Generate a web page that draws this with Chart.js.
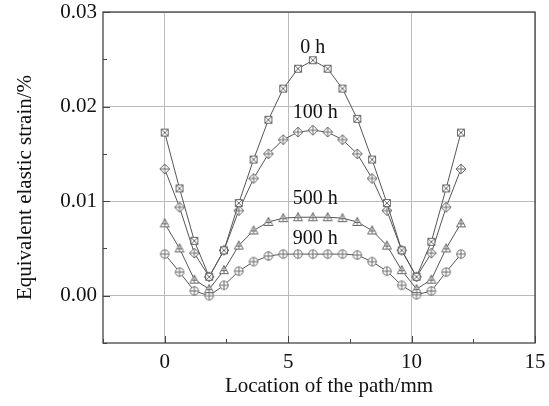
<!DOCTYPE html>
<html>
<head>
<meta charset="utf-8">
<script src="https://cdn.jsdelivr.net/npm/chart.js@4/dist/chart.umd.min.js"></script>
<style>
  html, body { margin: 0; padding: 0; background: #fff; }
  #wrap { width: 549px; height: 406px; }
</style>
</head>
<body>
<div id="wrap"><canvas id="strainChart" width="549" height="406"></canvas></div>
<script>
// location along the path (mm)
var pathX = [0, 0.6, 1.2, 1.8, 2.4, 3.0, 3.6, 4.2, 4.8, 5.4, 6.0, 6.6, 7.2, 7.8, 8.4, 9.0, 9.6, 10.2, 10.8, 11.4, 12.0];

// equivalent elastic strain (%) for each ageing time
var strain0h   = [0.01725, 0.01135, 0.0058, 0.0020, 0.0048, 0.0098, 0.0144, 0.0186, 0.0219, 0.0240, 0.0249, 0.0240, 0.0219, 0.0187, 0.0144, 0.0098, 0.0048, 0.0020, 0.0057, 0.01135, 0.01725];
var strain100h = [0.0134, 0.00935, 0.0045, 0.0020, 0.0048, 0.0090, 0.0124, 0.0150, 0.0165, 0.0173, 0.0175, 0.0173, 0.0165, 0.0150, 0.0124, 0.0090, 0.0048, 0.0020, 0.0045, 0.00935, 0.0134];
var strain500h = [0.00765, 0.0050, 0.0017, 0.0007, 0.0027, 0.0053, 0.0069, 0.0078, 0.0082, 0.0083, 0.0083, 0.0083, 0.0082, 0.0078, 0.0069, 0.0053, 0.0027, 0.0007, 0.0017, 0.0050, 0.00765];
var strain900h = [0.0044, 0.0025, 0.0005, 0.0000, 0.0011, 0.0026, 0.0036, 0.0042, 0.0044, 0.0044, 0.0044, 0.0044, 0.0044, 0.0043, 0.0036, 0.0026, 0.0011, 0.0001, 0.0005, 0.0025, 0.0044];

var seriesNames = ["0 h", "100 h", "500 h", "900 h"];
// where each curve label sits, in data units
var labelAtX = [6.0, 6.1, 6.1, 6.1];
var labelAtY = [0.0262, 0.0193, 0.0103, 0.0060];

var xTicks = [0, 5, 10, 15];
var xMinorTicks = [-2.5, 2.5, 7.5, 12.5];
var yTicks = [0.00, 0.01, 0.02, 0.03];
var yMinorTicks = [-0.005, 0.005, 0.015, 0.025];

var serif = "'Liberation Serif', 'Times New Roman', serif";

function makeMarker(kind) {
    var c = document.createElement("canvas");
    c.width = 12; c.height = 12;
    var g = c.getContext("2d");
    g.strokeStyle = "#6a6a6a";
    g.fillStyle = "#fff";
    g.lineWidth = 1;
    g.beginPath();
    if (kind == "square") {
        g.rect(2.5, 2.5, 7, 7);
    } else if (kind == "diamond") {
        g.moveTo(6, 1); g.lineTo(11, 6); g.lineTo(6, 11); g.lineTo(1, 6); g.closePath();
    } else if (kind == "triangle") {
        g.moveTo(6, 1.5); g.lineTo(10.5, 9.5); g.lineTo(1.5, 9.5); g.closePath();
    } else {
        g.arc(6, 6, 4.2, 0, Math.PI * 2);
    }
    g.fill();
    g.stroke();
    g.beginPath();
    if (kind == "square") {
        g.moveTo(2.5, 2.5); g.lineTo(9.5, 9.5);
        g.moveTo(9.5, 2.5); g.lineTo(2.5, 9.5);
    } else if (kind == "triangle") {
        g.moveTo(6, 1.5); g.lineTo(6, 9.5);
        g.moveTo(3, 6.5); g.lineTo(9, 6.5);
    } else if (kind == "diamond") {
        g.moveTo(6, 1); g.lineTo(6, 11);
        g.moveTo(1, 6); g.lineTo(11, 6);
    } else {
        g.moveTo(6, 1.8); g.lineTo(6, 10.2);
        g.moveTo(1.8, 6); g.lineTo(10.2, 6);
    }
    g.stroke();
    return c;
}

function toPoints(ys) {
    return pathX.map(function (x, i) { return { x: x, y: ys[i] }; });
}

function series(name, ys, kind) {
    return {
        label: name,
        data: toPoints(ys),
        borderColor: "#555",
        borderWidth: 1,
        pointStyle: makeMarker(kind),
        pointRadius: 5,
        pointHoverRadius: 5,
        fill: false,
        tension: 0
    };
}

var frameAndTicks = {
    id: "frameAndTicks",
    afterDatasetsDraw: function (chart) {
        var ctx = chart.ctx;
        var a = chart.chartArea;
        var xs = chart.scales.x, ys = chart.scales.y;
        ctx.save();
        ctx.strokeStyle = "#444";
        ctx.lineWidth = 1.3;
        ctx.strokeRect(a.left, a.top, a.right - a.left, a.bottom - a.top);
        ctx.lineWidth = 1;
        ctx.beginPath();
        xTicks.forEach(function (v) {
            var px = Math.round(xs.getPixelForValue(v)) + 0.5;
            ctx.moveTo(px, a.bottom); ctx.lineTo(px, a.bottom - 7);
        });
        xMinorTicks.forEach(function (v) {
            var px = Math.round(xs.getPixelForValue(v)) + 0.5;
            ctx.moveTo(px, a.bottom); ctx.lineTo(px, a.bottom - 4);
        });
        yTicks.forEach(function (v) {
            var py = Math.round(ys.getPixelForValue(v)) + 0.5;
            ctx.moveTo(a.left, py); ctx.lineTo(a.left + 7, py);
        });
        yMinorTicks.forEach(function (v) {
            var py = Math.round(ys.getPixelForValue(v)) + 0.5;
            ctx.moveTo(a.left, py); ctx.lineTo(a.left + 4, py);
        });
        ctx.stroke();

        // curve labels
        ctx.fillStyle = "#111";
        ctx.font = "20px " + serif;
        ctx.textAlign = "center";
        ctx.textBaseline = "middle";
        seriesNames.forEach(function (s, i) {
            ctx.fillText(s, xs.getPixelForValue(labelAtX[i]), ys.getPixelForValue(labelAtY[i]));
        });

        // axis titles
        ctx.font = "21px " + serif;
        ctx.fillText("Location of the path/mm", (a.left + a.right) / 2 + 10, 386);
        ctx.translate(25, (a.top + a.bottom) / 2 + 10);
        ctx.rotate(-Math.PI / 2);
        ctx.fillText("Equivalent elastic strain/%", 0, 0);
        ctx.restore();
    }
};

Chart.defaults.font.family = serif;
Chart.defaults.color = "#111";

new Chart(document.getElementById("strainChart"), {
    type: "line",
    data: {
        datasets: [
            series(seriesNames[0], strain0h, "square"),
            series(seriesNames[1], strain100h, "diamond"),
            series(seriesNames[2], strain500h, "triangle"),
            series(seriesNames[3], strain900h, "circle")
        ]
    },
    options: {
        responsive: false,
        animation: false,
        layout: { padding: { left: 0, right: 14, top: 12, bottom: 0 } },
        plugins: { legend: { display: false }, tooltip: { enabled: false } },
        scales: {
            x: {
                type: "linear",
                min: -2.5,
                max: 15,
                afterBuildTicks: function (s) { s.ticks = xTicks.map(function (v) { return { value: v }; }); },
                afterFit: function (s) { s.height = 63; s.paddingLeft = 0; s.paddingRight = 0; },
                grid: { color: "#bbb", lineWidth: 1, drawTicks: false },
                border: { display: false },
                ticks: { padding: 7, font: { size: 21 }, maxRotation: 0, callback: function (v) { return String(v); } }
            },
            y: {
                type: "linear",
                min: -0.005,
                max: 0.03,
                afterBuildTicks: function (s) { s.ticks = yTicks.map(function (v) { return { value: v }; }); },
                afterFit: function (s) { s.width = 103; s.paddingTop = 0; s.paddingBottom = 0; },
                grid: { color: "#bbb", lineWidth: 1, drawTicks: false },
                border: { display: false },
                ticks: { padding: 6, font: { size: 21 }, callback: function (v) { return Number(v).toFixed(2); } }
            }
        }
    },
    plugins: [frameAndTicks]
});
</script>
</body>
</html>
